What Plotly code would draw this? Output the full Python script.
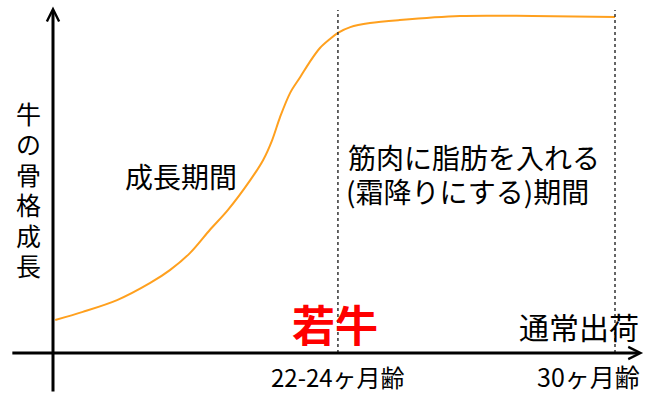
import plotly.graph_objects as go

# ---- data (schematic units: x = relative age, 100 = 30 months; y = % of final skeletal growth)
curve_x = [0.4, 5.3, 11.4, 17.3, 20.8, 24.4, 27.9, 31.1, 35.1, 37.4, 39.0, 40.4, 42.2, 44.0, 45.7,
           47.5, 49.3, 50.7, 52.9, 56.4, 61.7, 72.4, 85.4, 100.0]
curve_y = [9.8, 12.2, 15.7, 20.8, 24.6, 29.7, 36.5, 42.4, 51.3, 57.3, 63.2, 70.0, 77.2, 81.9, 86.4,
           90.5, 93.2, 95.0, 96.7, 97.9, 98.8, 100.0, 100.0, 99.7]
marker_x = [50.7, 100.0]
marker_labels = ["22-24ヶ月齢", "30ヶ月齢"]
y_label = "牛の骨格成長"
period_labels = ["成長期間", "筋肉に脂肪を入れる", "(霜降りにする)期間"]
stage_labels = ["若牛", "通常出荷"]

FONT = "Noto Sans CJK JP, Noto Sans, sans-serif"
ORANGE = "#FFA01E"
W, H = 650, 402

def px(xp):
    return xp / W

def py(yp):
    return 1 - yp / H

fig = go.Figure()
fig.add_trace(go.Scatter(x=curve_x, y=curve_y, mode="lines",
                         line=dict(color=ORANGE, width=2, shape="spline", smoothing=0.9),
                         hoverinfo="skip", showlegend=False))

# dotted vertical markers
for mx in marker_x:
    fig.add_shape(type="line", x0=mx, x1=mx, y0=0, y1=101.8, xref="x", yref="y",
                  line=dict(color="#333333", width=1.5, dash="dot"))

annotations = []
# axes as arrows
annotations.append(dict(x=105.0, y=0, ax=-7.5, ay=0, xref="x", yref="y", axref="x", ayref="y",
                        text="", showarrow=True, arrowhead=5, arrowsize=0.8, arrowwidth=3, arrowcolor="black"))
annotations.append(dict(x=0, y=102.8, ax=0, ay=-11.9, xref="x", yref="y", axref="x", ayref="y",
                        text="", showarrow=True, arrowhead=5, arrowsize=0.8, arrowwidth=3, arrowcolor="black"))

# y label (vertical stack, one character per annotation)
for i, ch in enumerate(y_label):
    annotations.append(dict(x=px(28), y=py(113 + i * 30.4), xref="paper", yref="paper", showarrow=False,
                            text=ch, font=dict(family=FONT, size=25, color="black"),
                            xanchor="center", yanchor="middle"))

# tick-like labels under the axis
annotations.append(dict(x=marker_x[0], y=py(376), xref="x", yref="paper", showarrow=False,
                        text=marker_labels[0], font=dict(family=FONT, size=24, color="black"),
                        xanchor="center", yanchor="middle"))
annotations.append(dict(x=px(642), y=py(376), xref="paper", yref="paper", showarrow=False,
                        text=marker_labels[1], font=dict(family=FONT, size=25, color="black"),
                        xanchor="right", yanchor="middle"))

# period labels
annotations.append(dict(x=px(181), y=py(176), xref="paper", yref="paper", showarrow=False,
                        text=period_labels[0], font=dict(family=FONT, size=28, color="black"),
                        xanchor="center", yanchor="middle"))
annotations.append(dict(x=px(346), y=py(157), xref="paper", yref="paper", showarrow=False,
                        text=period_labels[1], font=dict(family=FONT, size=28, color="black"),
                        xanchor="left", yanchor="middle"))
annotations.append(dict(x=px(344), y=py(191), xref="paper", yref="paper", showarrow=False,
                        text=period_labels[2], font=dict(family=FONT, size=28, color="black"),
                        xanchor="left", yanchor="middle"))

# stage labels
annotations.append(dict(x=px(335), y=py(323), xref="paper", yref="paper", showarrow=False,
                        text="<b>" + stage_labels[0] + "</b>", font=dict(family=FONT, size=43, color="#FF0000"),
                        xanchor="center", yanchor="middle"))
annotations.append(dict(x=px(641), y=py(326), xref="paper", yref="paper", showarrow=False,
                        text=stage_labels[1], font=dict(family=FONT, size=30, color="black"),
                        xanchor="right", yanchor="middle"))

# axis ranges so that x=0 -> px 53, x=100 -> px 615 ; y=0 -> px 353, y=100 -> px 16
sx = 5.62
sy = 3.37
fig.update_layout(
    width=W, height=H,
    margin=dict(l=0, r=0, t=0, b=0),
    paper_bgcolor="white", plot_bgcolor="white",
    xaxis=dict(range=[-53/sx, (W-53)/sx], visible=False, fixedrange=True),
    yaxis=dict(range=[-(H-353)/sy, 353/sy], visible=False, fixedrange=True),
    annotations=annotations,
    showlegend=False,
)
fig.write_html("out.html", config={"displayModeBar": False},
               post_script="document.body.style.margin='0';document.body.style.overflow='hidden';")
